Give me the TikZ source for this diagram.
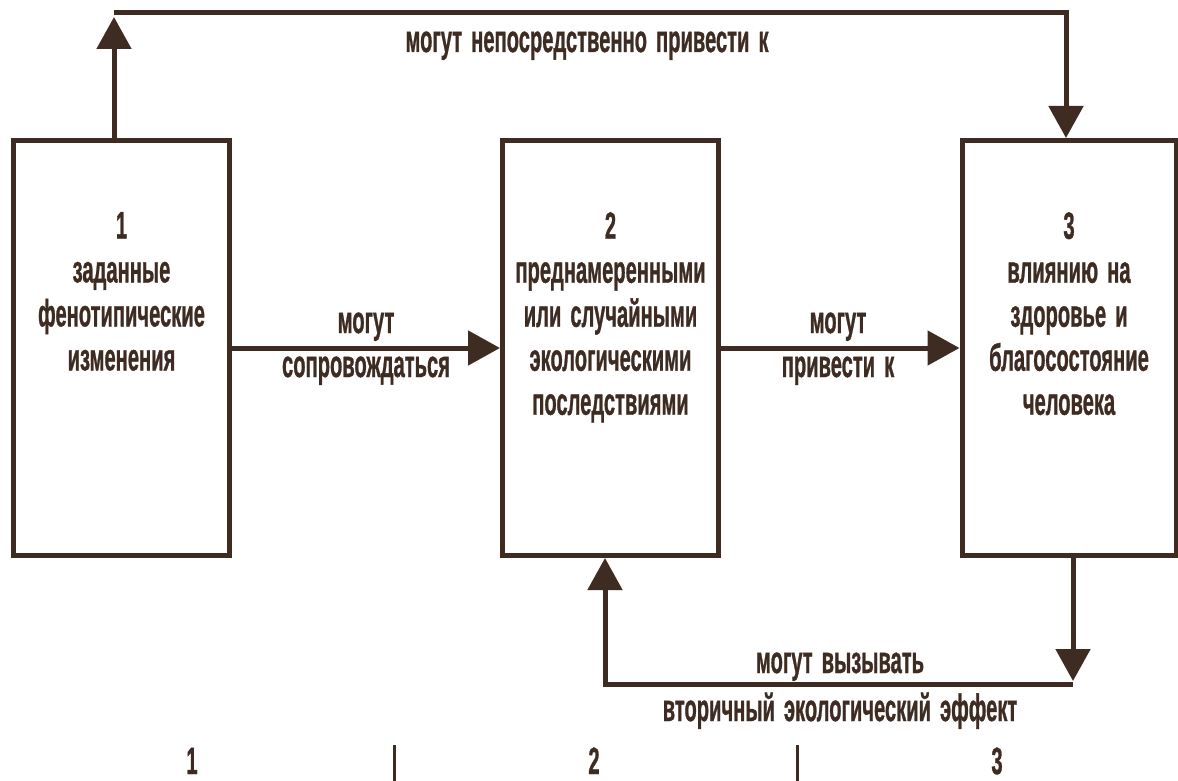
\documentclass[tikz,border=0pt]{standalone}
\usepackage{fontspec}
\setmainfont{Liberation Sans}[BoldFeatures={FakeBold=1.2}]
\usetikzlibrary{arrows.meta}
\definecolor{brn}{RGB}{62,44,35}
\newcommand\cn[1]{\scalebox{0.53}[1]{#1}}
\newcommand\ws{\hspace{0.45em}}
\begin{document}
\begin{tikzpicture}[x=1pt,y=-1pt,
 box/.style={draw=brn, line width=5pt, minimum width=216pt, minimum height=415pt, inner sep=0pt},
 arr/.style={draw=brn, line width=5pt, -{Triangle[width=34pt,length=32pt]}},
 lbl/.style={text=brn, font=\bfseries\fontsize{38}{44}\selectfont, inner sep=0pt, anchor=base},
 btxt/.style={text=brn, font=\bfseries\fontsize{38}{44}\selectfont, inner sep=0pt, align=center, anchor=north},
 sep/.style={draw=brn, line width=3pt}]
\useasboundingbox[fill=white] (0,0) rectangle (1178,781);

% boxes
\node[box] (b1) at (121.5,348) {};
\node[box] (b2) at (610.5,348) {};
\node[box, minimum width=214pt] (b3) at (1069,348) {};

% box texts
\node[btxt] (t1) at (121.5,212) {\cn{1}\\\cn{заданные}\\\cn{фенотипические}\\\cn{изменения}};
\node[btxt] (t2) at (610.5,212) {\cn{2}\\\cn{преднамеренными}\\\cn{или\ws случайными}\\\cn{экологическими}\\\cn{последствиями}};
\node[btxt] (t3) at (1069,212) {\cn{3}\\\cn{влиянию\ws на}\\\cn{здоровье\ws и}\\\cn{благосостояние}\\\cn{человека}};

% connector coordinates
\coordinate (tl) at (114,13);
\coordinate (tlh) at (114,17);
\coordinate (tr) at (1066,13);
\coordinate (br) at (1073,684);
\coordinate (brh) at (1073,681);
\coordinate (bl) at (605,684);

% horizontal arrows
\draw[arr] (b1.east) -- (b2.west);
\draw[arr] (b2.east) -- (b3.west);

% top loop
\draw[arr] (b1.north -| tl) -- (tlh);
\draw[arr] (tl) -- (tr) -- (b3.north -| tr);

% bottom loop
\draw[arr] (b3.south -| br) -- (brh);
\draw[arr] (br) -- (bl) -- (b2.south -| bl);

% labels
\node[lbl] (ltop) at (587,52) {\cn{могут\ws непосредственно\ws привести\ws к}};
\node[lbl] (l1a) at (366,333) {\cn{могут}};
\node[lbl] (l1b) at (366,377) {\cn{сопровождаться}};
\node[lbl] (l2a) at (838,333) {\cn{могут}};
\node[lbl] (l2b) at (838,377) {\cn{привести\ws к}};
\node[lbl] (l3a) at (840,673) {\cn{могут\ws вызывать}};
\node[lbl] (l3b) at (840,721) {\cn{вторичный\ws экологический\ws эффект}};

% bottom row
\coordinate (s1a) at (394,745);
\coordinate (s1b) at (394,781);
\coordinate (s2a) at (797,745);
\coordinate (s2b) at (797,781);
\draw[sep] (s1a) -- (s1b);
\draw[sep] (s2a) -- (s2b);
\node[lbl] (n1) at (192,774) {\cn{1}};
\node[lbl] (n2) at (594,774) {\cn{2}};
\node[lbl] (n3) at (997,774) {\cn{3}};
\end{tikzpicture}
\end{document}
